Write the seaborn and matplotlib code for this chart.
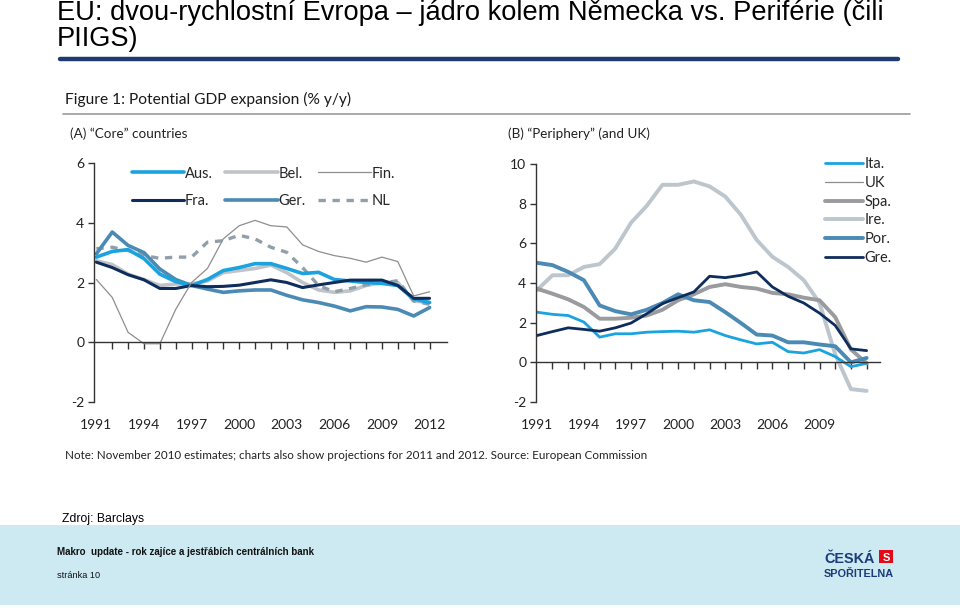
"""
Two-speed Europe slide: potential GDP growth, core vs periphery (Barclays / EC data).
"""

import matplotlib.pyplot as plt
import seaborn as sns
import pandas as pd
from matplotlib.lines import Line2D
from matplotlib.patches import Rectangle

# ---------------------------------------------------------------- data
years = list(range(1991, 2013))

# (A) "Core" countries, potential GDP % y/y
aus = [2.85, 3.04, 3.10, 2.80, 2.28, 2.03, 1.90, 2.10, 2.40, 2.50, 2.63,
       2.63, 2.47, 2.30, 2.34, 2.10, 2.05, 2.00, 1.97, 1.90, 1.45, 1.33]
bel = [2.73, 2.60, 2.28, 2.10, 1.90, 1.95, 1.95, 2.05, 2.33, 2.40, 2.47,
       2.58, 2.33, 2.00, 1.75, 1.67, 1.72, 1.90, 2.00, 2.00, 1.38, 1.33]
fin = [2.10, 1.50, 0.33, -0.05, -0.05, 1.10, 2.00, 2.47, 3.46, 3.90, 4.08,
       3.90, 3.86, 3.26, 3.04, 2.90, 2.81, 2.68, 2.85, 2.70, 1.55, 1.69]
fra = [2.68, 2.50, 2.26, 2.09, 1.80, 1.80, 1.90, 1.86, 1.87, 1.91, 2.00,
       2.09, 2.00, 1.83, 1.92, 2.00, 2.08, 2.08, 2.08, 1.90, 1.47, 1.47]
ger = [2.96, 3.69, 3.24, 3.00, 2.45, 2.10, 1.90, 1.78, 1.67, 1.72, 1.75,
       1.75, 1.57, 1.42, 1.33, 1.21, 1.05, 1.19, 1.18, 1.10, 0.88, 1.16]
nl = [3.13, 3.18, 3.07, 2.90, 2.81, 2.85, 2.85, 3.35, 3.40, 3.58, 3.46,
      3.18, 3.01, 2.50, 1.90, 1.69, 1.80, 1.92, 1.98, 2.06, 1.38, 1.27]

# (B) "Periphery" (and UK)
ita = [2.53, 2.42, 2.36, 2.03, 1.27, 1.44, 1.44, 1.52, 1.55, 1.57, 1.52,
       1.64, 1.35, 1.13, 0.93, 1.01, 0.54, 0.47, 0.64, 0.29, -0.22, -0.05]
uk = [3.65, 3.42, 3.12, 2.76, 2.20, 2.20, 2.25, 2.35, 2.62, 3.10, 3.40,
      3.76, 3.90, 3.78, 3.70, 3.48, 3.40, 3.25, 3.10, 2.28, 0.65, 0.00]
spa = [3.72, 3.46, 3.18, 2.79, 2.20, 2.20, 2.25, 2.36, 2.65, 3.13, 3.43,
       3.80, 3.94, 3.80, 3.72, 3.50, 3.43, 3.26, 3.13, 2.28, 0.65, -0.05]
ire = [3.63, 4.39, 4.39, 4.81, 4.95, 5.74, 7.04, 7.89, 8.95, 8.95, 9.12,
       8.87, 8.36, 7.43, 6.17, 5.32, 4.81, 4.14, 3.00, 0.40, -1.35, -1.44]
por = [5.02, 4.90, 4.56, 4.14, 2.87, 2.58, 2.42, 2.65, 2.99, 3.43, 3.13,
       3.04, 2.53, 1.98, 1.40, 1.35, 1.01, 1.01, 0.90, 0.81, 0.00, 0.22]
gre = [1.35, 1.55, 1.74, 1.66, 1.57, 1.74, 1.98, 2.45, 2.96, 3.26, 3.55,
       4.34, 4.27, 4.39, 4.56, 3.80, 3.33, 2.99, 2.48, 1.86, 0.68, 0.59]

core_df = pd.DataFrame({"year": years, "Aus.": aus, "Bel.": bel, "Fin.": fin,
                        "Fra.": fra, "Ger.": ger, "NL": nl})
peri_df = pd.DataFrame({"year": years, "Ita.": ita, "UK": uk, "Spa.": spa,
                        "Ire.": ire, "Por.": por, "Gre.": gre})

core_xlabels = [1991, 1994, 1997, 2000, 2003, 2006, 2009, 2012]
peri_xlabels = [1991, 1994, 1997, 2000, 2003, 2006, 2009]

# ---------------------------------------------------------------- styles
BLUE = "#1aa3de"
NAVY = "#0f2d5c"
STEEL = "#4a8ab5"
THIN = "#8e8e8e"

core_styles = [  # draw order (bottom first)
    ("Bel.", dict(color="#c0c4c8", lw=2.6)),
    ("NL", dict(color="#8fa0ab", lw=2.4, linestyle=(0, (2.2, 2.0)))),
    ("Ger.", dict(color=STEEL, lw=2.6)),
    ("Aus.", dict(color=BLUE, lw=2.6)),
    ("Fra.", dict(color=NAVY, lw=2.2)),
    ("Fin.", dict(color=THIN, lw=0.9)),
]
core_legend_order = ["Aus.", "Fra.", "Bel.", "Ger.", "Fin.", "NL"]

peri_styles = [
    ("UK", dict(color=THIN, lw=0.9)),
    ("Ire.", dict(color="#bcc6cc", lw=2.8)),
    ("Spa.", dict(color="#9a9b9f", lw=2.8)),
    ("Por.", dict(color=STEEL, lw=2.8)),
    ("Ita.", dict(color=BLUE, lw=2.0)),
    ("Gre.", dict(color=NAVY, lw=2.0)),
]
peri_legend_order = ["Ita.", "UK", "Spa.", "Ire.", "Por.", "Gre."]

sns.set_theme(style="ticks")
plt.rcParams["font.family"] = ["Lato", "DejaVu Sans"]
plt.rcParams["axes.unicode_minus"] = False

W, H = 960, 609


def fx(px):
    return px / W


def fy(py):
    return 1 - py / H


def draw_panel(ax, df, styles, legend_order, ylim, yticks, xlabels, xlim):
    """Plot one panel and style its axes like the Barclays chart."""
    handles = {}
    for name, st in styles:
        sns.lineplot(data=df, x="year", y=name, ax=ax, label=name, **st)
        handles[name] = ax.get_lines()[-1]
    ax.get_legend().remove()

    ax.set_xlim(*xlim)
    ax.set_ylim(*ylim)
    ax.set_yticks(yticks)
    ax.set_xlabel("")
    ax.set_ylabel("")
    sns.despine(ax=ax)
    ax.spines["bottom"].set_position(("data", 0))
    for sp in ("left", "bottom"):
        ax.spines[sp].set_color("#333333")
        ax.spines[sp].set_linewidth(1.0)

    # yearly ticks on the zero line, labels underneath the panel
    ax.set_xticks(years[1:])
    ax.tick_params(axis="x", direction="out", length=5, width=1,
                   color="#333333", labelbottom=False)
    ax.tick_params(axis="y", direction="out", length=4, width=1,
                   color="#333333", labelsize=10, labelcolor="#222222", pad=3)
    sec = ax.secondary_xaxis("bottom")
    sec.set_xticks(xlabels)
    sec.tick_params(length=0, pad=12, labelsize=10, labelcolor="#222222")
    sec.spines["bottom"].set_visible(False)
    return [handles[n] for n in legend_order]


fig = plt.figure(figsize=(9.6, 6.09), dpi=100)

ax_a = fig.add_axes([fx(94), fy(402), fx(447) - fx(94), (402 - 163) / H])
ax_b = fig.add_axes([fx(536), fy(402), fx(880) - fx(536), (402 - 164) / H])

h_a = draw_panel(ax_a, core_df, core_styles, core_legend_order,
                 (-2, 6), [-2, 0, 2, 4, 6], core_xlabels, (1990.85, 2013.1))
h_b = draw_panel(ax_b, peri_df, peri_styles, peri_legend_order,
                 (-2, 10), [-2, 0, 2, 4, 6, 8, 10], peri_xlabels, (1990.95, 2012.85))

ax_a.legend(h_a, core_legend_order, ncol=3, frameon=False, loc="upper left",
            bbox_to_anchor=(0.107, 0.985), borderaxespad=0, borderpad=0,
            handlelength=3.6, handletextpad=0.05, columnspacing=0.85,
            labelspacing=0.95, fontsize=10.5)
ax_b.legend(h_b, peri_legend_order, ncol=1, frameon=False, loc="upper left",
            bbox_to_anchor=(0.84, 1.028), borderaxespad=0, borderpad=0,
            handlelength=2.6, handletextpad=0.1, labelspacing=0.32,
            fontsize=10.5)

# ---------------------------------------------------------------- slide furniture
fig.text(fx(57), fy(20), "EU: dvou-rychlostní Evropa – jádro kolem Německa vs. Periférie (čili",
         family="Liberation Sans", fontsize=19.6, color="black", va="baseline")
fig.text(fx(57), fy(46), "PIIGS)", family="Liberation Sans", fontsize=19.6,
         color="black", va="baseline")
fig.add_artist(Line2D([fx(60), fx(898)], [fy(59), fy(59)], color="#1f3a70", lw=3.2))

fig.text(fx(65), fy(104), "Figure 1: Potential GDP expansion (% y/y)",
         fontsize=11.2, color="#1a1a1a", va="baseline")
fig.add_artist(Line2D([fx(63), fx(910)], [fy(114), fy(114)], color="#9a9a9a", lw=1.2))
fig.text(fx(70), fy(138), "(A) “Core” countries", fontsize=9.7, color="#222222", va="baseline")
fig.text(fx(508), fy(138), "(B) “Periphery” (and UK)", fontsize=9.7, color="#222222",
         va="baseline")

fig.text(fx(65), fy(459),
         "Note: November 2010 estimates; charts also show projections for 2011 and 2012. "
         "Source: European Commission",
         fontsize=8.4, color="#222222", va="baseline")

fig.text(fx(62), fy(522), "Zdroj: Barclays", family="Liberation Sans", fontsize=8.8,
         color="black", va="baseline")

fig.add_artist(Rectangle((0, fy(605)), 1, (605 - 525) / H, transform=fig.transFigure,
                         facecolor="#cdeaf2", edgecolor="none", zorder=-1))
fig.text(fx(57), fy(555), "Makro  update - rok zajíce a jestřábích centrálních bank",
         family="Liberation Sans", fontsize=7.0, fontweight="bold", color="#111111",
         va="baseline")
fig.text(fx(57), fy(578), "stránka 10", family="Liberation Sans", fontsize=6.6,
         color="#111111", va="baseline")

# bank logo
fig.text(fx(824), fy(563), "ČESKÁ", family="Liberation Sans", fontsize=10.4,
         fontweight="bold", color="#1b3c7a", va="baseline")
fig.add_artist(Rectangle((fx(879), fy(563)), 14 / W, 13 / H, transform=fig.transFigure,
                         facecolor="#e30a17", edgecolor="none"))
fig.text(fx(886), fy(561), "S", family="Liberation Sans", fontsize=8,
         fontweight="bold", color="white", ha="center", va="baseline")
fig.text(fx(824), fy(577), "SPOŘITELNA", family="Liberation Sans", fontsize=7.8,
         fontweight="bold", color="#1b3c7a", va="baseline")

fig.savefig("out.png", dpi=100)
